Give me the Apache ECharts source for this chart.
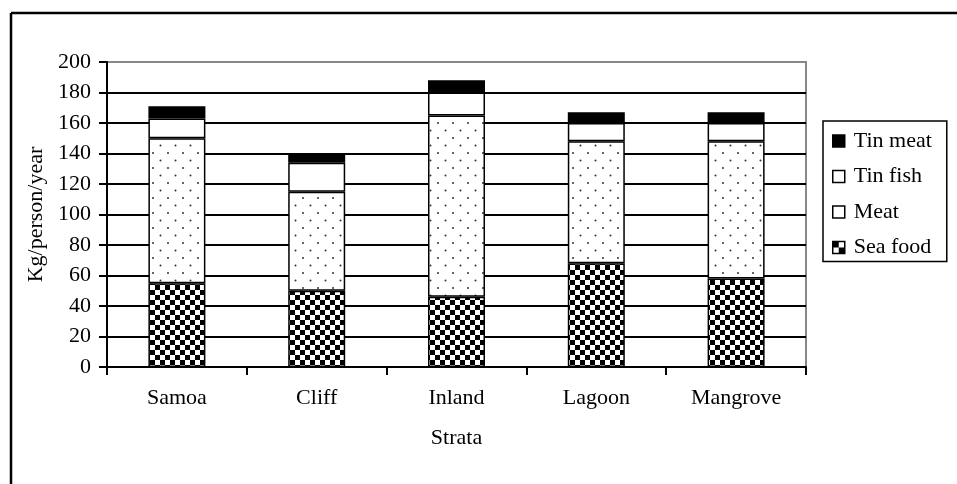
<!DOCTYPE html>
<html>
<head>
<meta charset="utf-8">
<script src="https://cdn.jsdelivr.net/npm/echarts@6/dist/echarts.min.js"></script>
<style>html,body{margin:0;padding:0;background:#fff;}#c{width:957px;height:484px;}</style>
</head>
<body>
<div id="c"></div>
<script>
var categories = ['Samoa', 'Cliff', 'Inland', 'Lagoon', 'Mangrove'];
var seaFood = [55, 50, 46, 68, 58];
var meat = [95, 65, 119, 80, 90];
var tinFish = [13, 19, 15, 12, 12];
var tinMeat = [8, 6, 8, 7, 7];
var yTicks = [0, 20, 40, 60, 80, 100, 120, 140, 160, 180, 200];

function checker(cell) {
  var c = document.createElement('canvas');
  c.width = cell * 2; c.height = cell * 2;
  var g = c.getContext('2d');
  g.fillStyle = '#fff'; g.fillRect(0, 0, c.width, c.height);
  g.fillStyle = '#000';
  g.fillRect(0, 0, cell, cell);
  g.fillRect(cell, cell, cell, cell);
  return c;
}
function dots() {
  var c = document.createElement('canvas');
  c.width = 15; c.height = 15;
  var g = c.getContext('2d');
  g.fillStyle = '#fff'; g.fillRect(0, 0, 15, 15);
  g.fillStyle = '#333';
  g.beginPath(); g.arc(3, 3, 1, 0, Math.PI * 2); g.fill();
  g.beginPath(); g.arc(10.5, 10.5, 1, 0, Math.PI * 2); g.fill();
  return c;
}
var checkPat = { image: checker(5), repeat: 'repeat' };
var checkIcon = { image: checker(6), repeat: 'repeat' };
var dotPat = { image: dots(), repeat: 'repeat' };

var font = 'Liberation Serif, Times New Roman, serif';
var chart = echarts.init(document.getElementById('c'), null, { renderer: 'canvas' });
var border = { borderColor: '#000', borderWidth: 1.5 };
function series(name, data, color) {
  return {
    name: name, type: 'bar', stack: 'total', data: data, barWidth: 57,
    itemStyle: Object.assign({ color: color }, border)
  };
}
chart.setOption({
  backgroundColor: '#fff',
  animation: false,
  textStyle: { fontFamily: font, color: '#000' },
  graphic: [
    { type: 'line', shape: { x1: 11, y1: 13, x2: 957, y2: 13 }, style: { stroke: '#000', lineWidth: 2.5 } },
    { type: 'line', shape: { x1: 11, y1: 13, x2: 11, y2: 484 }, style: { stroke: '#000', lineWidth: 2.5 } }
  ],
  grid: { left: 107, right: 151, top: 62, bottom: 117, show: true, borderColor: '#888', borderWidth: 2, backgroundColor: 'transparent' },
  legend: {
    orient: 'vertical', left: 823, top: 121,
    padding: [9, 15, 3, 9], itemGap: 13.5,
    itemWidth: 12, itemHeight: 12, icon: 'rect',
    borderColor: '#000', borderWidth: 1.5, backgroundColor: '#fff',
    textStyle: { fontFamily: font, fontSize: 22, color: '#000', lineHeight: 22, padding: [0, 0, 0, 4] },
    data: [
      { name: 'Tin meat', itemStyle: Object.assign({ color: '#000' }, border) },
      { name: 'Tin fish', itemStyle: Object.assign({ color: '#fff' }, border) },
      { name: 'Meat', itemStyle: Object.assign({ color: '#fff' }, border) },
      { name: 'Sea food', itemStyle: Object.assign({ color: checkIcon }, border) }
    ]
  },
  xAxis: {
    type: 'category', data: categories,
    name: 'Strata', nameLocation: 'middle', nameGap: 60,
    nameTextStyle: { fontFamily: font, fontSize: 22, color: '#000' },
    axisLine: { lineStyle: { color: '#000', width: 2 } },
    axisTick: { show: true, length: 8, lineStyle: { color: '#000', width: 2 } },
    axisLabel: { fontFamily: font, fontSize: 22, color: '#000', margin: 20 }
  },
  yAxis: {
    type: 'value', min: yTicks[0], max: yTicks[yTicks.length - 1], interval: 20,
    name: 'Kg/person/year', nameLocation: 'middle', nameGap: 52,
    nameTextStyle: { fontFamily: font, fontSize: 22, color: '#000' },
    axisLine: { show: true, lineStyle: { color: '#000', width: 2 } },
    axisTick: { show: true, length: 8, lineStyle: { color: '#000', width: 2 } },
    axisLabel: { fontFamily: font, fontSize: 22, color: '#000', margin: 16 },
    splitLine: { show: true, showMaxLine: false, lineStyle: { color: '#000', width: 2 } }
  },
  series: [
    series('Sea food', seaFood, checkPat),
    series('Meat', meat, dotPat),
    series('Tin fish', tinFish, '#fff'),
    series('Tin meat', tinMeat, '#000')
  ]
});
</script>
</body>
</html>
